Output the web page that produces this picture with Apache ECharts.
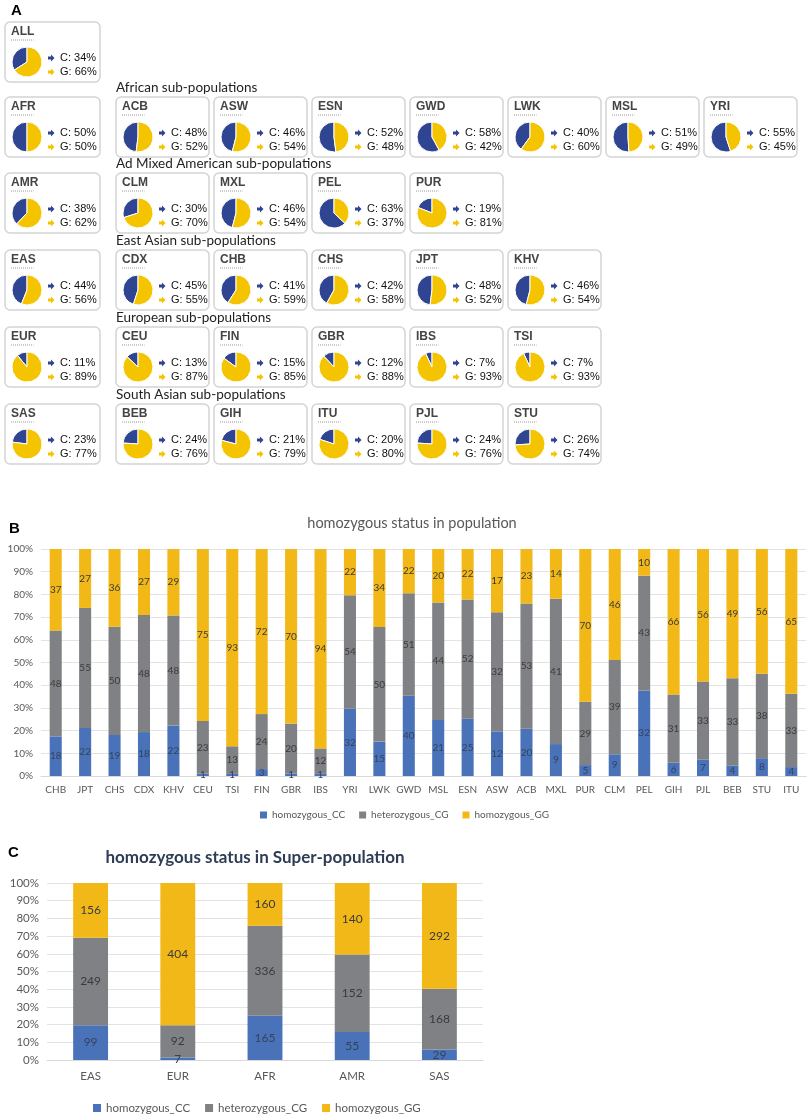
<!DOCTYPE html>
<html>
<head>
<meta charset="utf-8">
<script src="https://cdn.jsdelivr.net/npm/echarts@6/dist/echarts.min.js"></script>
<style>
html, body { margin: 0; padding: 0; background: #fff; }
#main { width: 809px; height: 1115px; }
</style>
</head>
<body>
<div id="main"></div>
<script>
// ---- panel A : allele frequencies (%) ----
var superPops = ['ALL', 'AFR', 'AMR', 'EAS', 'EUR', 'SAS'];
var superC = [34, 50, 38, 44, 11, 23];
var superG = [66, 50, 62, 56, 89, 77];

var subTitles = ['African sub-populations', 'Ad Mixed American sub-populations',
	'East Asian sub-populations', 'European sub-populations', 'South Asian sub-populations'];
var subPops = [
	['ACB', 'ASW', 'ESN', 'GWD', 'LWK', 'MSL', 'YRI'],
	['CLM', 'MXL', 'PEL', 'PUR'],
	['CDX', 'CHB', 'CHS', 'JPT', 'KHV'],
	['CEU', 'FIN', 'GBR', 'IBS', 'TSI'],
	['BEB', 'GIH', 'ITU', 'PJL', 'STU']
];
var subC = [[48, 46, 52, 58, 40, 51, 55], [30, 46, 63, 19], [45, 41, 42, 48, 46], [13, 15, 12, 7, 7], [24, 21, 20, 24, 26]];
var subG = [[52, 54, 48, 42, 60, 49, 45], [70, 54, 37, 81], [55, 59, 58, 52, 54], [87, 85, 88, 93, 93], [76, 79, 80, 76, 74]];

// ---- panel B : genotype counts per population ----
var popCats = ['CHB', 'JPT', 'CHS', 'CDX', 'KHV', 'CEU', 'TSI', 'FIN', 'GBR', 'IBS', 'YRI', 'LWK', 'GWD',
	'MSL', 'ESN', 'ASW', 'ACB', 'MXL', 'PUR', 'CLM', 'PEL', 'GIH', 'PJL', 'BEB', 'STU', 'ITU'];
var popCC = [18, 22, 19, 18, 22, 1, 1, 3, 1, 1, 32, 15, 40, 21, 25, 12, 20, 9, 5, 9, 32, 6, 7, 4, 8, 4];
var popCG = [48, 55, 50, 48, 48, 23, 13, 24, 20, 12, 54, 50, 51, 44, 52, 32, 53, 41, 29, 39, 43, 31, 33, 33, 38, 33];
var popGG = [37, 27, 36, 27, 29, 75, 93, 72, 70, 94, 22, 34, 22, 20, 22, 17, 23, 14, 70, 46, 10, 66, 56, 49, 56, 65];

// ---- panel C : genotype counts per super-population ----
var supCats = ['EAS', 'EUR', 'AFR', 'AMR', 'SAS'];
var supCC = [99, 7, 165, 55, 29];
var supCG = [249, 92, 336, 152, 168];
var supGG = [156, 404, 160, 140, 292];

var genoNames = ['homozygous_CC', 'heterozygous_CG', 'homozygous_GG'];

var BLUE = '#2f4592', GOLD = '#f5c400';
var barColors = ['#4a72b8', '#7f8184', '#f2b817'];

var graphics = [];
var series = [];

function card(x, y, w, name, c, g) {
	graphics.push({ type: 'rect', z: 0, shape: { x: x, y: y, width: w, height: 60, r: 5 },
		style: { fill: '#fff', stroke: '#d4d4d4', lineWidth: 1.5 } });
	graphics.push({ type: 'text', z: 10, x: x + 6, y: y + 4,
		style: { text: name, font: 'bold 12px "Liberation Sans", Arial', fill: '#444' } });
	graphics.push({ type: 'line', z: 10, shape: { x1: x + 6, y1: y + 18, x2: x + 6 + name.length * 7.5, y2: y + 18 },
		style: { stroke: '#9a9a9a', lineWidth: 1, lineDash: [1, 1] } });
	[[c, 'C', BLUE, 36], [g, 'G', GOLD, 50]].forEach(function (r) {
		var ax = x + 43, ay = y + r[3];
		graphics.push({ type: 'polygon', z: 10,
			shape: { points: [[ax, ay - 1.5], [ax + 3, ay - 1.5], [ax + 3, ay - 3.5], [ax + 6.5, ay], [ax + 3, ay + 3.5], [ax + 3, ay + 1.5], [ax, ay + 1.5]] },
			style: { fill: r[2] } });
		graphics.push({ type: 'text', z: 10, x: x + 55, y: ay,
			style: { text: r[1] + ': ' + r[0] + '%', font: '11px "Liberation Sans", Arial', fill: '#111', textVerticalAlign: 'middle' } });
	});
	series.push({
		type: 'pie', silent: true, clockwise: false, startAngle: 90,
		center: [x + 22, y + 40], radius: 15,
		label: { show: false }, labelLine: { show: false },
		itemStyle: { borderColor: '#fff', borderWidth: 1 },
		data: [{ value: c, name: 'C', itemStyle: { color: BLUE } }, { value: g, name: 'G', itemStyle: { color: GOLD } }]
	});
}

var rowY = [22, 97, 173, 250, 327, 404];
superPops.forEach(function (p, i) {
	card(5, rowY[i], 95, p, superC[i], superG[i]);
	if (i > 0) {
		graphics.push({ type: 'text', z: 10, x: 116, y: rowY[i] - 9,
			style: { text: subTitles[i - 1], font: '13.5px Lato, "Noto Sans"', fill: '#222', textVerticalAlign: 'middle' } });
		subPops[i - 1].forEach(function (s, j) {
			card(116 + j * 98, rowY[i], 93, s, subC[i - 1][j], subG[i - 1][j]);
		});
	}
});

graphics.push({ type: 'text', x: 11, y: 3, style: { text: 'A', font: 'bold 15px "Liberation Sans", Arial', fill: '#000' } });
graphics.push({ type: 'text', x: 9, y: 521, style: { text: 'B', font: 'bold 15px "Liberation Sans", Arial', fill: '#000' } });
graphics.push({ type: 'text', x: 8, y: 845, style: { text: 'C', font: 'bold 15px "Liberation Sans", Arial', fill: '#000' } });

// 100% stacked bars: values as shares, labels keep the counts
function shares(a, b, c, k) {
	return a.map(function (v, i) {
		var t = a[i] + b[i] + c[i];
		var raw = [a[i], b[i], c[i]][k];
		return { value: raw / t * 100, raw: raw };
	});
}

function stackSeries(idx, a, b, c, fs, bw) {
	return [0, 1, 2].map(function (k) {
		return {
			name: genoNames[k], type: 'bar', stack: 's' + idx,
			xAxisIndex: idx, yAxisIndex: idx, barWidth: bw,
			itemStyle: { color: barColors[k] },
			label: { show: true, position: 'inside', fontSize: fs, fontFamily: 'Lato',
				color: k === 0 ? '#34425e' : '#3a3a3a',
				formatter: function (p) { return p.data.raw; } },
			data: shares(a, b, c, k)
		};
	});
}

series = series.concat(stackSeries(0, popCC, popCG, popGG, 10, '41%'));
series = series.concat(stackSeries(1, supCC, supCG, supGG, 12, '40%'));

function yAxis(gi, fs) {
	return {
		type: 'value', gridIndex: gi, min: 0, max: 100, interval: 10,
		axisLabel: { formatter: '{value}%', fontSize: fs, color: '#595959', fontFamily: 'Lato', margin: 8 },
		splitLine: { lineStyle: { color: '#e3e3e3' } },
		axisLine: { show: false }, axisTick: { show: false }
	};
}
function xAxis(gi, cats, fs, m) {
	return {
		type: 'category', gridIndex: gi, data: cats,
		axisTick: { show: false },
		axisLine: { lineStyle: { color: '#d9d9d9' } },
		axisLabel: { interval: 0, fontSize: fs, color: '#595959', fontFamily: 'Lato', margin: m }
	};
}

var myChart = echarts.init(document.getElementById('main'));
var option = {
	animation: false,
	title: [
		{ text: 'homozygous status in population', left: 407, top: 511, textAlign: 'center',
			textStyle: { fontSize: 14.5, fontWeight: 'normal', color: '#595959', fontFamily: 'Lato' } },
		{ text: 'homozygous status in Super-population', left: 250, top: 844, textAlign: 'center',
			textStyle: { fontSize: 17, fontWeight: 'bold', color: '#2e3c55', fontFamily: 'Lato' } }
	],
	legend: [
		{ data: genoNames, top: 805, left: 'center', icon: 'rect', itemWidth: 7, itemHeight: 7, itemGap: 14,
			textStyle: { fontSize: 10, color: '#595959', fontFamily: 'Lato' } },
		{ data: genoNames, top: 1097, left: 88, icon: 'rect', itemWidth: 8, itemHeight: 8, itemGap: 15,
			textStyle: { fontSize: 11.5, color: '#595959', fontFamily: 'Lato' } }
	],
	grid: [
		{ left: 41, width: 765, top: 549, height: 227 },
		{ left: 47, width: 436, top: 883, height: 177 }
	],
	xAxis: [xAxis(0, popCats, 10, 9), xAxis(1, supCats, 11.5, 10)],
	yAxis: [yAxis(0, 10), yAxis(1, 11.5)],
	graphic: graphics,
	series: series
};
myChart.setOption(option);
</script>
</body>
</html>
